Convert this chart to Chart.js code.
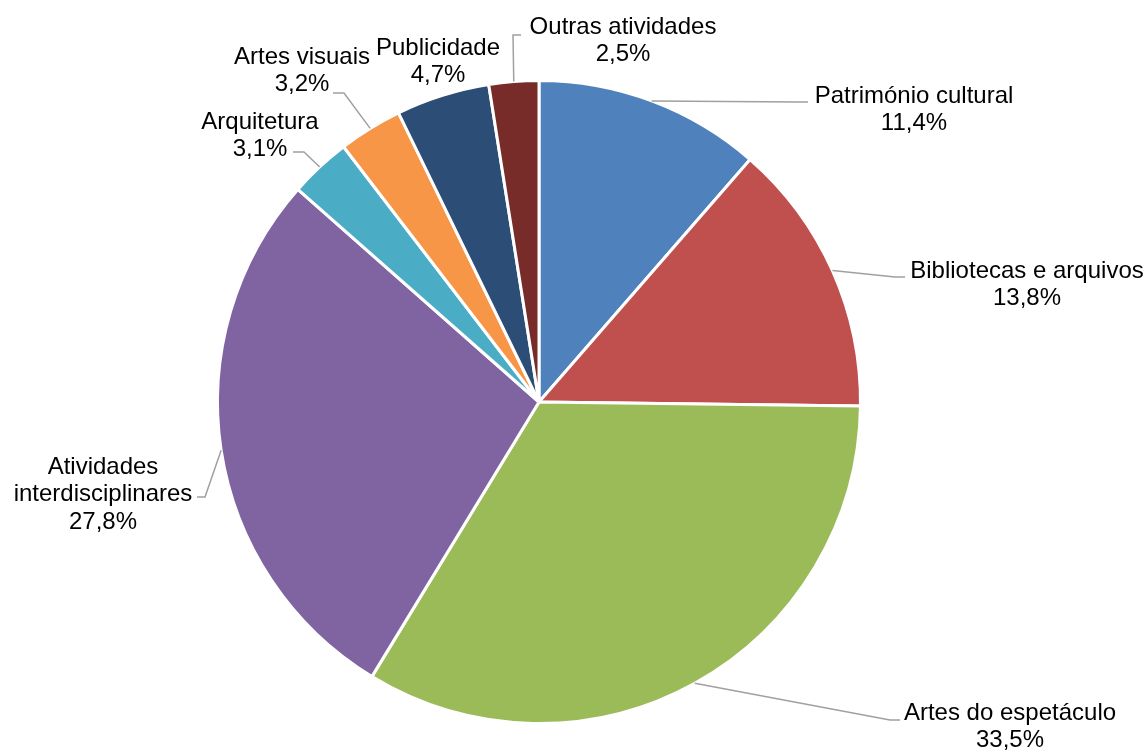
<!DOCTYPE html>
<html>
<head>
<meta charset="utf-8">
<script src="https://cdn.jsdelivr.net/npm/chart.js@4"></script>
<style>
  html, body { margin: 0; padding: 0; background: #fff; }
  #wrap { width: 1147px; height: 751px; }
</style>
</head>
<body>
<div id="wrap"><canvas id="pieChart"></canvas></div>
<script>
// Chart data
const categories = ['Património cultural', 'Bibliotecas e arquivos', 'Artes do espetáculo',
    'Atividades interdisciplinares', 'Arquitetura', 'Artes visuais', 'Publicidade', 'Outras atividades'];
const shares = [11.4, 13.8, 33.5, 27.8, 3.1, 3.2, 4.7, 2.5];
const sliceColors = ['#4F81BD', '#C0504D', '#9BBB59', '#8064A2', '#4BACC6', '#F79646', '#2C4D75', '#772C2A'];

// label text lines (name may wrap)
const labelLines = [
    ['Património cultural'], ['Bibliotecas e arquivos'], ['Artes do espetáculo'],
    ['Atividades', 'interdisciplinares'], ['Arquitetura'], ['Artes visuais'], ['Publicidade'], ['Outras atividades']
];

// label placement relative to pie centre (px)
// t = first text line centre, e = leader end, k = elbow (null = no leader)
const labelPlace = [
    { t: [375, -306], k: [261, -300], e: [269, -300] },
    { t: [488, -131], k: [356, -125], e: [366, -125] },
    { t: [471, 311], k: [351, 318], e: [361, 318] },
    { t: [-436, 65], k: [-334, 95], e: [-342, 95] },
    { t: [-279, -280], k: [-235, -250], e: [-246, -250] },
    { t: [-237, -345], k: [-195, -309], e: [-206, -309] },
    { t: [-101, -354], k: null, e: null },
    { t: [84, -375], k: [-26, -367], e: [-18, -367] }
];

const fmtPct = v => v.toFixed(1).replace('.', ',') + '%';

const pieLabels = {
    id: 'pieLabels',
    afterDatasetsDraw(chart) {
        const ctx = chart.ctx;
        const arcs = chart.getDatasetMeta(0).data;
        ctx.save();
        ctx.font = '24px "Liberation Sans", Arial, sans-serif';
        ctx.textAlign = 'center';
        ctx.textBaseline = 'middle';
        arcs.forEach((arc, i) => {
            const cx = arc.x, cy = arc.y, r = arc.outerRadius;
            const p = labelPlace[i];
            if (p.k) {
                const mid = (arc.startAngle + arc.endAngle) / 2;
                ctx.strokeStyle = '#A0A0A0';
                ctx.lineWidth = 1.5;
                ctx.beginPath();
                ctx.moveTo(cx + Math.cos(mid) * r, cy + Math.sin(mid) * r);
                ctx.lineTo(cx + p.k[0], cy + p.k[1]);
                ctx.lineTo(cx + p.e[0], cy + p.e[1]);
                ctx.stroke();
            }
            const lines = labelLines[i].concat([fmtPct(shares[i])]);
            ctx.fillStyle = '#000';
            lines.forEach((ln, j) => {
                ctx.fillText(ln, cx + p.t[0], cy + p.t[1] + j * 27.5);
            });
        });
        ctx.restore();
    }
};

const config = {
    type: 'pie',
    data: {
        labels: categories,
        datasets: [{
            data: shares,
            backgroundColor: sliceColors,
            borderColor: '#fff',
            borderWidth: 3
        }]
    },
    options: {
        responsive: true,
        maintainAspectRatio: false,
        animation: false,
        layout: { padding: { top: 79, bottom: 26, left: 150, right: 219 } },
        plugins: {
            legend: { display: false },
            tooltip: { enabled: false }
        }
    },
    plugins: [pieLabels]
};

const pieChart = new Chart(document.getElementById('pieChart'), config);
</script>
</body>
</html>
